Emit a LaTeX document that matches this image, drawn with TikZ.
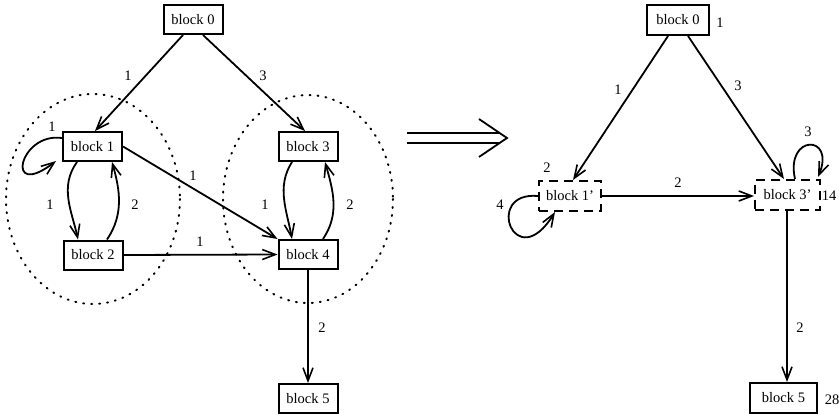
\documentclass[tikz,border=0pt]{standalone}
\usepackage{fontspec}
\setmainfont{Liberation Serif}
\usetikzlibrary{arrows.meta,calc}
\begin{document}
\begin{tikzpicture}[x=1pt,y=-1pt,
 blk/.style={draw,line width=2pt,minimum width=59pt,minimum height=29pt,inner sep=0pt,font=\fontsize{14.5}{16}\selectfont},
 dblk/.style={blk,dash pattern=on 9pt off 6pt},
 lbl/.style={font=\fontsize{14.5}{16}\selectfont,inner sep=0pt},
 edge/.style={line width=1.8pt,-{Straight Barb[length=13pt,width=10pt,line width=1.6pt]}},
 grp/.style={line width=2pt,dash pattern=on 1pt off 7pt,line cap=round}
]
\useasboundingbox (0,0) rectangle (839,415);

% ---------- left graph ----------
\draw[grp] (93,199) ellipse [x radius=87, y radius=105];
\draw[grp] (308,199) ellipse [x radius=85, y radius=104];

\node[blk] (b0) at (193,19.5) {block 0};
\node[blk] (b1) at (92.5,146.5) {block 1};
\node[blk] (b2) at (93,255) {block 2};
\node[blk] (b3) at (308,146.5) {block 3};
\node[blk] (b4) at (308,254.5) {block 4};
\node[blk] (b5) at (308,398.5) {block 5};

\draw[edge] ([xshift=-10pt]b0.south) -- ([xshift=2.5pt]b1.north);
\draw[edge] ([xshift=10pt]b0.south) -- ([xshift=-3pt]b3.north);
\draw[edge] ([yshift=-7pt]b1.north west) .. controls +(-43,-6) and +(-52,40) .. ([xshift=-6pt,yshift=1pt]b1.south west);
\draw[edge] ([xshift=-15.5pt]b1.south) .. controls +(-18,25) and +(-6,-28) .. ([xshift=-15pt]b2.north);
\draw[edge] ([xshift=14pt]b2.north) .. controls +(17,-25) and +(8,28) .. ([xshift=19.5pt]b1.south);
\draw[edge] (b1.east) -- (b4.north west);
\draw[edge] (b2.east) -- (b4.west);
\draw[edge] ([xshift=-16pt]b3.south) .. controls +(-16,25) and +(-5,-28) .. ([xshift=-16pt]b4.north);
\draw[edge] ([xshift=15pt]b4.north) .. controls +(17,-25) and +(8,28) .. ([xshift=17pt]b3.south);
\draw[edge] (b4.south) -- (b5.north);

\node[lbl] (l01) at (128,76) {1};
\node[lbl] (l03) at (263,76) {3};
\node[lbl] (l11) at (52,127) {1};
\node[lbl] (l12) at (50,205) {1};
\node[lbl] (l21) at (135,205) {2};
\node[lbl] (l14) at (193,176) {1};
\node[lbl] (l24) at (200,242) {1};
\node[lbl] (l34) at (265,205) {1};
\node[lbl] (l43) at (350,205) {2};
\node[lbl] (l45) at (322,328) {2};

% ---------- double arrow ----------
\draw[line width=1.8pt] (407,133) coordinate (da1) -- (500,133);
\draw[line width=1.8pt] (407,143) coordinate (da2) -- (500,143);
\draw[line width=1.8pt,line join=miter] (479,119) -- (507,138) coordinate (dat) -- (479,157);

% ---------- right graph ----------
\node[blk,minimum width=62pt,minimum height=30pt] (c0) at (678,20) {block 0};
\node[dblk,minimum width=62pt,minimum height=30pt] (c1) at (570,196) {block 1'};
\node[dblk,minimum width=65pt,minimum height=30pt] (c3) at (787.5,195) {block 3'};
\node[blk,minimum width=67pt,minimum height=30pt] (c5) at (783.5,398) {block 5};

\draw[edge] ([xshift=-10pt]c0.south) -- ([xshift=3pt]c1.north);
\draw[edge] ([xshift=10pt]c0.south) -- ([xshift=-3.5pt]c3.north);
\draw[edge] (c1.east) -- (c1.east -| c3.west);
\draw[edge] (c1.west) .. controls +(-55,-5) and +(-40,65) .. ([xshift=-15pt]c1.south);
\draw[edge] ([xshift=7.5pt]c3.north) .. controls +(-10,-45) and +(18,-43) .. ([xshift=-3pt,yshift=2pt]c3.north east);
\draw[edge] ([xshift=-0.5pt]c3.south) -- ([xshift=-0.5pt]c3.south |- c5.north);

\node[lbl] (m0) at (720,23) {1};
\node[lbl] (m01) at (618,90) {1};
\node[lbl] (m03) at (738,86) {3};
\node[lbl] (m1) at (547,168) {2};
\node[lbl] (m11) at (500,205) {4};
\node[lbl] (m13) at (678,183) {2};
\node[lbl] (m33) at (808,132) {3};
\node[lbl] (m3) at (829,196) {14};
\node[lbl] (m35) at (800,328) {2};
\node[lbl] (m5) at (832,400) {28};
\end{tikzpicture}
\end{document}
